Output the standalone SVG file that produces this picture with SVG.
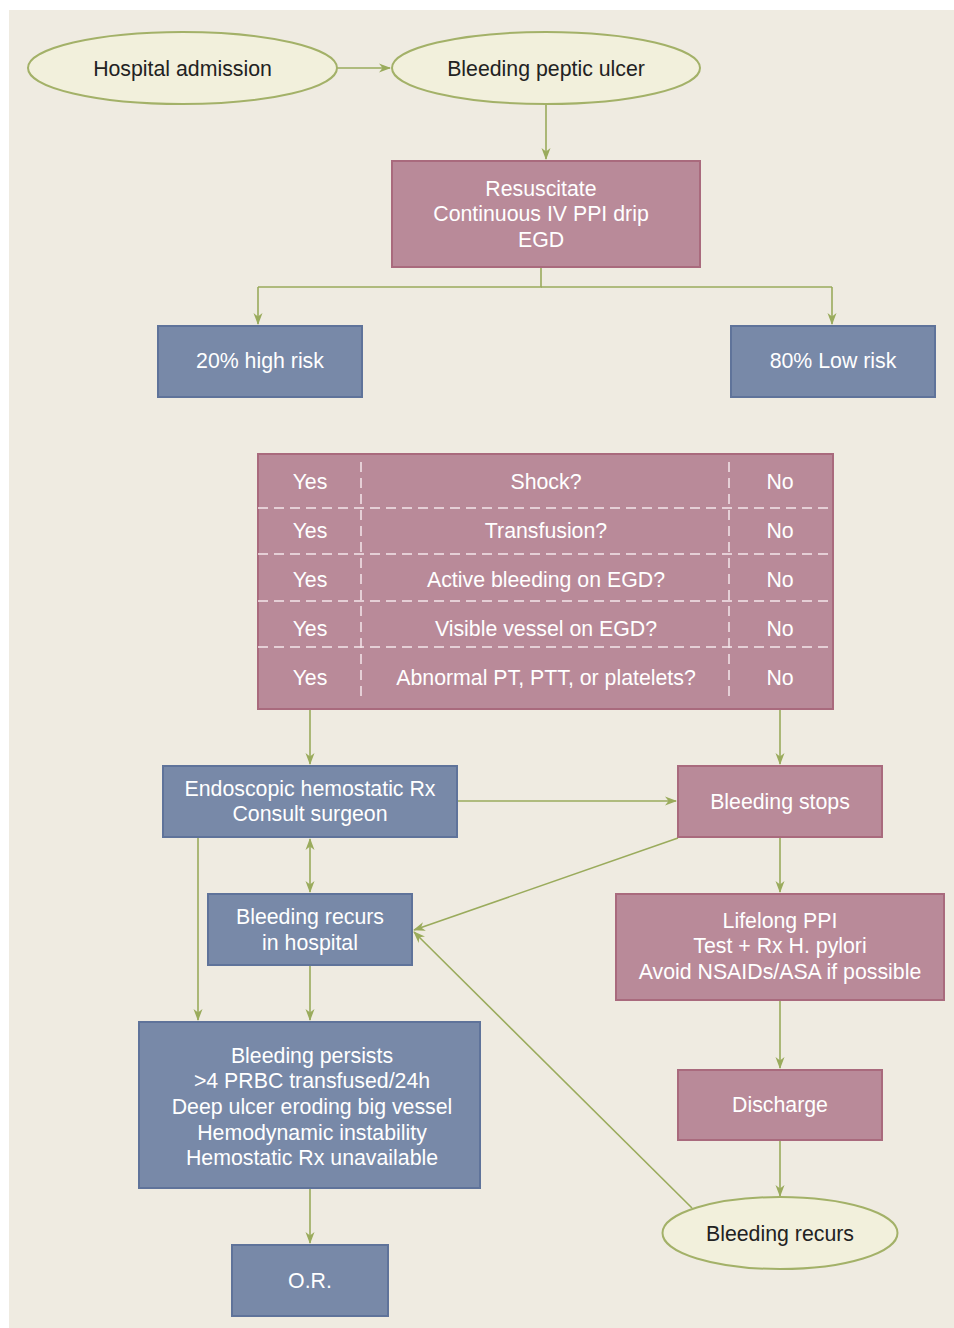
<svg xmlns="http://www.w3.org/2000/svg" width="954" height="1328" viewBox="0 0 954 1328">
<defs>
<marker id="ah" viewBox="0 0 12 10" refX="11" refY="5" markerWidth="12" markerHeight="10" markerUnits="userSpaceOnUse" orient="auto-start-reverse">
<path d="M0,0.5 L12,5 L0,9.5 L3.5,5 Z" fill="#9aab5c"/>
</marker>
<style>
.bg{fill:#efebe1}
.ell{fill:#f2f0dc;stroke:#a3b168;stroke-width:2}
.pk{fill:#b98a99;stroke:#a96a7d;stroke-width:2}
.bl{fill:#7889a8;stroke:#5f739a;stroke-width:2}
.c{fill:none;stroke:#9aab5c;stroke-width:1.6}
.ca{fill:none;stroke:#9aab5c;stroke-width:1.6;marker-end:url(#ah)}
.d{fill:none;stroke:#f3e6ea;stroke-width:1.5;stroke-dasharray:10,6}
.tw{font-family:"Liberation Sans",Arial,sans-serif;font-size:21.3px;fill:#ffffff;text-anchor:middle}
.tk{font-family:"Liberation Sans",Arial,sans-serif;font-size:21.3px;fill:#222222;text-anchor:middle}
</style>
</defs>
<rect class="bg" x="9" y="10" width="945" height="1318"/>

<g id="connectors">
<line class="ca" x1="337" y1="68" x2="390" y2="68"/>
<line class="ca" x1="546" y1="104" x2="546" y2="159"/>
<polyline class="c" points="541,268 541,287 258,287"/>
<line class="ca" x1="258" y1="287" x2="258" y2="324"/>
<polyline class="c" points="541,287 832,287"/>
<line class="ca" x1="832" y1="287" x2="832" y2="324"/>
<line class="ca" x1="310" y1="710" x2="310" y2="764"/>
<line class="ca" x1="780" y1="710" x2="780" y2="764"/>
<line class="ca" x1="457" y1="801" x2="676" y2="801"/>
<line class="ca" x1="310" y1="839" x2="310" y2="892" style="marker-start:url(#ah)"/>
<line class="ca" x1="198" y1="838" x2="198" y2="1020"/>
<line class="ca" x1="310" y1="966" x2="310" y2="1020"/>
<line class="ca" x1="310" y1="1189" x2="310" y2="1243"/>
<line class="ca" x1="678" y1="838" x2="414" y2="930"/>
<line class="ca" x1="780" y1="838" x2="780" y2="892"/>
<line class="ca" x1="780" y1="1001" x2="780" y2="1068"/>
<line class="ca" x1="780" y1="1141" x2="780" y2="1196"/>
<line class="ca" x1="692" y1="1208" x2="414" y2="932"/>
</g>

<g id="hospital-admission">
<ellipse class="ell" cx="182.5" cy="68" rx="154.5" ry="36"/>
<text class="tk" x="182.5" y="76">Hospital admission</text>
</g>
<g id="bleeding-peptic-ulcer">
<ellipse class="ell" cx="546" cy="68" rx="154" ry="36"/>
<text class="tk" x="546" y="76">Bleeding peptic ulcer</text>
</g>
<g id="resuscitate">
<rect class="pk" x="392" y="161" width="308" height="106"/>
<text class="tw" x="541" y="196">Resuscitate</text>
<text class="tw" x="541" y="221">Continuous IV PPI drip</text>
<text class="tw" x="541" y="247">EGD</text>
</g>
<g id="high-risk">
<rect class="bl" x="158" y="326" width="204" height="71"/>
<text class="tw" x="260" y="368">20% high risk</text>
</g>
<g id="low-risk">
<rect class="bl" x="731" y="326" width="204" height="71"/>
<text class="tw" x="833" y="368">80% Low risk</text>
</g>
<g id="criteria-table">
<rect class="pk" x="258" y="454" width="575" height="255"/>
<line class="d" x1="258" y1="508" x2="833" y2="508"/>
<line class="d" x1="258" y1="554" x2="833" y2="554"/>
<line class="d" x1="258" y1="601" x2="833" y2="601"/>
<line class="d" x1="258" y1="647" x2="833" y2="647"/>
<line class="d" x1="361" y1="462" x2="361" y2="700"/>
<line class="d" x1="729" y1="462" x2="729" y2="700"/>
<text class="tw" x="310" y="489">Yes</text>
<text class="tw" x="546" y="489">Shock?</text>
<text class="tw" x="780" y="489">No</text>
<text class="tw" x="310" y="538">Yes</text>
<text class="tw" x="546" y="538">Transfusion?</text>
<text class="tw" x="780" y="538">No</text>
<text class="tw" x="310" y="587">Yes</text>
<text class="tw" x="546" y="587">Active bleeding on EGD?</text>
<text class="tw" x="780" y="587">No</text>
<text class="tw" x="310" y="636">Yes</text>
<text class="tw" x="546" y="636">Visible vessel on EGD?</text>
<text class="tw" x="780" y="636">No</text>
<text class="tw" x="310" y="685">Yes</text>
<text class="tw" x="546" y="685">Abnormal PT, PTT, or platelets?</text>
<text class="tw" x="780" y="685">No</text>
</g>
<g id="endoscopic">
<rect class="bl" x="163" y="766" width="294" height="71"/>
<text class="tw" x="310" y="796">Endoscopic hemostatic Rx</text>
<text class="tw" x="310" y="821">Consult surgeon</text>
</g>
<g id="bleeding-stops">
<rect class="pk" x="678" y="766" width="204" height="71"/>
<text class="tw" x="780" y="809">Bleeding stops</text>
</g>
<g id="bleeding-recurs-hospital">
<rect class="bl" x="208" y="894" width="204" height="71"/>
<text class="tw" x="310" y="924">Bleeding recurs</text>
<text class="tw" x="310" y="950">in hospital</text>
</g>
<g id="lifelong-ppi">
<rect class="pk" x="616" y="894" width="328" height="106"/>
<text class="tw" x="780" y="928">Lifelong PPI</text>
<text class="tw" x="780" y="953">Test + Rx H. pylori</text>
<text class="tw" x="780" y="979">Avoid NSAIDs/ASA if possible</text>
</g>
<g id="bleeding-persists">
<rect class="bl" x="139" y="1022" width="341" height="166"/>
<text class="tw" x="312" y="1063">Bleeding persists</text>
<text class="tw" x="312" y="1088">&gt;4 PRBC transfused/24h</text>
<text class="tw" x="312" y="1114">Deep ulcer eroding big vessel</text>
<text class="tw" x="312" y="1140">Hemodynamic instability</text>
<text class="tw" x="312" y="1165">Hemostatic Rx unavailable</text>
</g>
<g id="discharge">
<rect class="pk" x="678" y="1070" width="204" height="70"/>
<text class="tw" x="780" y="1112">Discharge</text>
</g>
<g id="or">
<rect class="bl" x="232" y="1245" width="156" height="71"/>
<text class="tw" x="310" y="1288">O.R.</text>
</g>
<g id="bleeding-recurs">
<ellipse class="ell" cx="780" cy="1233" rx="117.5" ry="36"/>
<text class="tk" x="780" y="1241">Bleeding recurs</text>
</g>
</svg>
